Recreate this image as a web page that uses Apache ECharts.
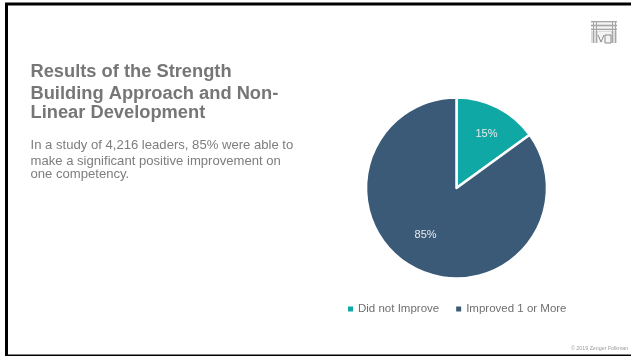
<!DOCTYPE html>
<html><head><meta charset="utf-8">
<style>html,body{margin:0;padding:0;background:#fff}#c{width:631px;height:356px}</style>
<script src="https://cdn.jsdelivr.net/npm/echarts@6/dist/echarts.min.js"></script>
</head><body><div id="c"></div>
<script>
const categories = ['Did not Improve', 'Improved 1 or More'];
const shares = [15, 85];
const sliceColors = ['#0FA8A4', '#3B5A78'];
const headingLines = ['Results of the Strength', 'Building Approach and Non-', 'Linear Development'];
const bodyLines = ['In a study of 4,216 leaders, 85% were able to', 'make a significant positive improvement on', 'one competency.'];
const footerText = '\u00A9 2019 Zenger Folkman';

const chart = echarts.init(document.getElementById('c'), null, {renderer: 'canvas'});
const sans = '"Liberation Sans", Arial, sans-serif';

function textLine(str, x, y, size, weight, fill) {
  return {type: 'text', x, y, style: {text: str, font: `${weight} ${size}px ${sans}`, fill, textVerticalAlign: 'middle'}};
}

// Emblem in the top right corner, a small woven grid of grey strokes
function emblem() {
  const parts = [{type: 'rect', shape: {x: 591, y: 21, width: 26, height: 22}, style: {fill: '#dcdcdc'}}];
  const dark = '#a6a6a6';
  const pale = '#f4f4f4';
  [23, 27, 30].forEach(y => parts.push({type: 'rect', shape: {x: 591, y, width: 26, height: 1}, style: {fill: pale}}));
  [21, 25, 29].forEach(y => parts.push({type: 'rect', shape: {x: 591, y, width: 26, height: 1}, style: {fill: dark}}));
  [593, 596, 612, 615].forEach(x => parts.push({type: 'rect', shape: {x, y: 21, width: 1, height: 22}, style: {fill: dark}}));
  parts.push({type: 'rect', shape: {x: 598, y: 32, width: 13, height: 11}, style: {fill: '#f4f4f4'}});
  parts.push({type: 'rect', shape: {x: 605, y: 35, width: 6, height: 8}, style: {fill: 'none', stroke: '#8a8a8a'}});
  parts.push({type: 'polyline', shape: {points: [[598, 35], [601, 42], [604, 35]]}, style: {stroke: '#8a8a8a', fill: 'none'}});
  return parts;
}

chart.setOption({
  animation: false,
  backgroundColor: '#fff',
  color: sliceColors,
  legend: {
    left: 348, top: 303, padding: 0, itemGap: 17, itemWidth: 5, itemHeight: 5, icon: 'rect',
    itemStyle: {borderWidth: 0},
    textStyle: {color: '#6f6f6f', fontFamily: sans, fontSize: 11.5},
    data: categories
  },
  series: [{
    type: 'pie', center: [456.5, 188], radius: [0, 90.5], startAngle: 90, clockwise: true,
    itemStyle: {borderColor: '#fff', borderWidth: 2.5},
    labelLine: {show: false},
    label: {show: true, position: 'inside', color: '#e6ebef', fontFamily: sans, fontSize: 11, formatter: '{c}%'},
    data: categories.map((name, i) => ({
      name, value: shares[i],
      label: {offset: i === 0 ? [8, -11] : [-9, 4]}
    }))
  }],
  graphic: {elements: [
    {type: 'rect', shape: {x: 6.5, y: 4, width: 640, height: 352}, style: {fill: 'none', stroke: '#000', lineWidth: 3}},
    ...headingLines.map((t, i) => textLine(t, 30.5, [72, 94, 113][i], 18.3, 'bold', '#767676')),
    ...bodyLines.map((t, i) => textLine(t, 30.5, [145, 161, 174][i], 13.1, 'normal', '#7d7d7d')),
    textLine(footerText, 571, 349, 5.3, 'normal', '#9a9a9a'),
    ...emblem()
  ]}
});
</script></body></html>
